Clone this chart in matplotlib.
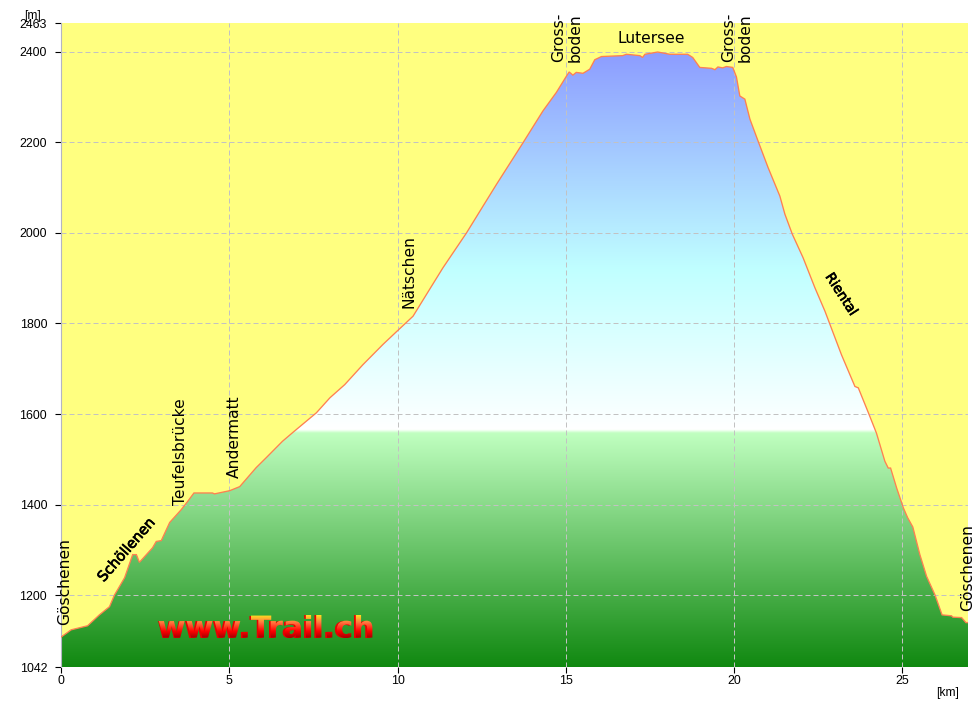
import matplotlib
matplotlib.use("Agg")
import matplotlib.pyplot as plt
import numpy as np
from matplotlib.colors import LinearSegmentedColormap
from matplotlib.patches import Polygon, PathPatch
from matplotlib.textpath import TextPath
from matplotlib.font_manager import FontProperties
from matplotlib.transforms import Affine2D
import matplotlib.patheffects as pe

km = [0, .19, .30, .79, 1.14, 1.44, 1.59, 1.89, 2.13, 2.24, 2.33, 2.72, 2.83, 2.98, 3.23, 3.57, 3.76, 3.95,
      4.50, 4.56, 5.01, 5.31, 5.80, 6.10, 6.58, 6.88, 7.59, 7.99, 8.43, 8.97, 9.57, 9.97, 10.46, 10.95, 11.35,
      12.05, 12.54, 12.94, 13.73, 14.32, 14.72, 15.02, 15.10, 15.21, 15.31, 15.51, 15.71, 15.86, 16.06,
      16.69, 16.80, 17.20, 17.28, 17.35, 17.73, 18.09, 18.62, 18.77, 18.98, 19.33, 19.43, 19.52, 19.66,
      19.77, 19.96, 20.07, 20.17, 20.32, 20.47, 20.71, 21.01, 21.36, 21.51, 21.73, 22.05, 22.40, 22.70,
      23.19, 23.59, 23.69, 23.99, 24.23, 24.48, 24.58, 24.65, 24.83, 25.03, 25.16,
      25.31, 25.52, 25.72, 25.97, 26.18, 26.46, 26.50, 26.76, 26.89, 26.95]
elev = [1108, 1118, 1124, 1133, 1157, 1175, 1201, 1239, 1290, 1290, 1273, 1305, 1319, 1321, 1361, 1389, 1407, 1426,
        1426, 1424, 1431, 1440, 1482, 1504, 1540, 1559, 1603, 1636, 1665, 1709, 1754, 1782, 1816, 1875, 1923,
        2000, 2059, 2107, 2199, 2269, 2310, 2346, 2355, 2348, 2354, 2352, 2361, 2382, 2389,
        2391, 2394, 2391, 2387, 2394, 2399, 2394, 2394, 2387, 2365, 2363, 2360, 2366, 2364,
        2367, 2365, 2344, 2302, 2295, 2251, 2203, 2144, 2081, 2041, 1997, 1945, 1879, 1827,
        1731, 1661, 1658, 1603, 1558, 1496, 1481, 1481, 1437, 1393, 1371,
        1351, 1290, 1242, 1201, 1157, 1155, 1152, 1151, 1140, 1140]
x_ticks = [0, 5, 10, 15, 20, 25]
y_ticks = [1042, 1200, 1400, 1600, 1800, 2000, 2200, 2400, 2463]
grid_y = [1200, 1400, 1600, 1800, 2000, 2200, 2400]
grid_x = [5, 10, 15, 20, 25]
labels = [("Göschenen", 0.10, 1135), ("Teufelsbrücke", 3.54, 1400),
          ("Andermatt", 5.16, 1460), ("Nätschen", 10.33, 1835), ("Gross-", 14.80, 2377),
          ("boden", 15.29, 2377), ("Gross-", 19.84, 2378), ("boden", 20.34, 2378),
          ("Göschenen", 26.93, 1166)]
logo = "www.Trail.ch"

W, H = 975, 701
fig = plt.figure(figsize=(W / 100, H / 100), dpi=100, facecolor="white")
ax = fig.add_axes([61 / W, 1 - 667 / H, (968 - 61) / W, (667 - 23) / H])
ax.set_xlim(0, 26.95)
ax.set_ylim(1042, 2463)
ax.set_facecolor("#ffff80")

stops = [(1042, "#108810"), (1558, "#c0ffc0"), (1566, "#ffffff"), (1920, "#c0ffff"), (2400, "#8c9cff")]
lo, hi = 1042, 2463
cmap = LinearSegmentedColormap.from_list(
    "hp", [((min(v, hi) - lo) / (hi - lo), c) for v, c in stops] + [(1.0, "#8c9cff")], N=1024)
im = ax.imshow(np.linspace(0, 1, 1024)[:, None], origin="lower", aspect="auto", cmap=cmap,
               extent=(0, 26.95, lo, hi), zorder=1, interpolation="bilinear")
poly = Polygon(list(zip(km, elev)) + [(km[-1], lo), (km[0], lo)], closed=True, transform=ax.transData,
               fc="none", ec="none")
ax.add_patch(poly)
im.set_clip_path(poly)
ax.plot(km, elev, color="#ff8050", lw=0.95, zorder=3, solid_joinstyle="miter")

for v in grid_y:
    ax.axhline(v, color="#c2c2c2", lw=0.72, ls=(0, (5, 3)), zorder=2)
for v in grid_x:
    ax.axvline(v, color="#c2c2c2", lw=0.72, ls=(0, (5, 3)), zorder=2)

ax.set_xticks(x_ticks)
ax.set_yticks(y_ticks)
ax.tick_params(axis="y", length=4, width=0.8, color="black", labelsize=8.9, pad=6)
ax.tick_params(axis="x", length=4, width=0.8, color="black", labelsize=8.9, pad=2)
for t in ax.get_xticklabels() + ax.get_yticklabels():
    t.set_fontfamily("Liberation Sans")
for s in ["top", "right", "bottom"]:
    ax.spines[s].set_visible(False)
ax.spines["left"].set_color("#b4b4c4")

for text, x, y in labels:
    ax.text(x, y, text, rotation=90, rotation_mode="anchor", ha="left", va="center",
            fontsize=11.2, color="black", zorder=5)
ax.text(17.54, 2428, "Lutersee", fontsize=11.2, ha="center", va="center", zorder=5)
stroke = [pe.withStroke(linewidth=0.5, foreground="black")]
ax.text(1.95, 1300, "Schöllenen", fontsize=10.4, rotation=49, rotation_mode="anchor", ha="center", va="center",
        zorder=5, path_effects=stroke)
ax.text(23.19, 1864, "Riental", fontsize=9.8, rotation=-57, rotation_mode="anchor", ha="center", va="center",
        zorder=5, path_effects=stroke)

# gradient-filled site logo: real text underneath, colour ramp clipped to its outline
fp = FontProperties(family="DejaVu Sans", weight="bold")
ax.text(6.08, 1107, logo, fontproperties=fp, color="#e80000", ha="center", va="baseline", zorder=6)
ax.texts[-1].set_fontsize(21.7)
tp = TextPath((0, 0), logo, size=21.7, prop=fp)
bb = tp.get_extents()
x0, y0 = ax.transData.transform((6.08, 1107))
s = 100 / 72
tf = Affine2D().scale(s).translate(x0 - s * (bb.x0 + bb.x1) / 2, y0)
ramp = LinearSegmentedColormap.from_list(
    "logo", [(0, "#a00000"), (0.30, "#ff0000"), (0.68, "#ff7840"), (1, "#ffe020")], N=256)
logo_im = ax.imshow(np.linspace(0, 1, 256)[:, None], origin="lower", aspect="auto", cmap=ramp,
                    extent=(0, 26.95, 1107, 1157), zorder=7)
clip = PathPatch(tp, transform=tf, fc="none", ec="none")
logo_im.set_clip_path(clip)
ax.set_xlim(0, 26.95)
ax.set_ylim(1042, 2463)

fig.text(24 / W, 1 - 16 / H, "[m]", fontsize=8.7, family="Liberation Sans", va="center")
fig.text(936 / W, 1 - 693 / H, "[km]", fontsize=8.7, family="Liberation Sans", va="center")
fig.savefig("out.png", dpi=100)
